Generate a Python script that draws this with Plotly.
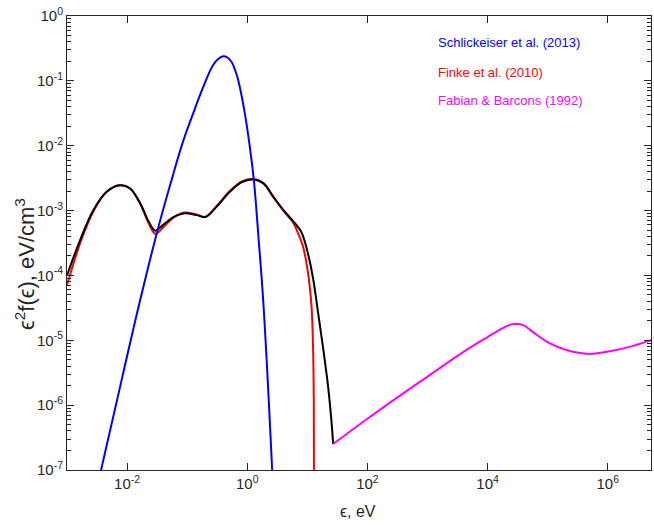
import plotly.graph_objects as go

# ---- data ----
blue_x = [0.003388, 0.008128, 0.01585, 0.03162, 0.05495, 0.08710, 0.1259, 0.1862, 0.2692, 0.3311,
          0.3981, 0.4677, 0.5495, 0.6310, 0.7079, 0.9120, 1.122, 1.288, 1.549, 1.862, 2.630]
blue_y = [7.08e-8, 2.45e-6, 3.55e-5, 4.68e-4, 2.95e-3, 1.23e-2, 3.16e-2, 8.13e-2, 0.1738, 0.2188,
          0.2399, 0.2291, 0.1950, 0.1445, 0.1023, 3.16e-2, 8.51e-3, 2.95e-3, 3.55e-4, 3.55e-5, 7.94e-8]

black_x = [0.001, 0.0016596, 0.0027542, 0.0045709, 0.0075858, 0.011220, 0.016596, 0.022909, 0.029512,
           0.039811, 0.058884, 0.091201, 0.14454, 0.19953, 0.30903, 0.51286, 0.81283, 1.2589, 1.8621,
           2.6915, 3.9811, 5.7544, 7.9433, 10.233, 12.589, 15.136, 18.197, 22.131, 25.119, 26.915]
black_y = [1.0e-4, 3.548e-4, 1.023e-3, 1.950e-3, 2.455e-3, 2.188e-3, 1.288e-3, 6.761e-4, 4.898e-4,
           6.026e-4, 7.943e-4, 9.120e-4, 8.511e-4, 7.943e-4, 1.148e-3, 1.950e-3, 2.754e-3, 3.020e-3,
           2.630e-3, 1.660e-3, 1.023e-3, 6.918e-4, 4.677e-4, 2.188e-4, 8.511e-5, 2.630e-5, 7.943e-6,
           1.950e-6, 5.888e-7, 2.512e-7]

red_x = [0.001, 0.0016596, 0.0027542, 0.0045709, 0.0075858, 0.011220, 0.016596, 0.022909, 0.029512,
         0.039811, 0.058884, 0.091201, 0.14454, 0.19953, 0.30903, 0.51286, 0.81283, 1.2589, 1.8621,
         2.6915, 3.9811, 5.7544, 7.0795, 8.5114, 10.233, 11.749, 12.445, 12.823, 12.942]
red_y = [7.08e-5, 3.16e-4, 9.77e-4, 1.950e-3, 2.455e-3, 2.188e-3, 1.259e-3, 6.31e-4, 4.365e-4,
         5.495e-4, 7.762e-4, 9.333e-4, 8.710e-4, 7.943e-4, 1.175e-3, 2.0e-3, 2.818e-3, 3.090e-3,
         2.630e-3, 1.622e-3, 1.0e-3, 6.607e-4, 4.365e-4, 2.754e-4, 1.122e-4, 3.311e-5, 7.943e-6,
         1.0e-6, 1.0e-8]

magenta_x = [26.915, 100, 316.23, 1000, 3162.3, 6309.6, 10000, 15849, 22387, 28184, 39811, 56234,
             107152, 204174, 489779, 1202264, 2570396, 5248075]
magenta_y = [2.512e-7, 6.166e-7, 1.318e-6, 2.754e-6, 5.754e-6, 8.710e-6, 1.122e-5, 1.445e-5,
             1.698e-5, 1.778e-5, 1.698e-5, 1.349e-5, 9.016e-6, 7.079e-6, 6.166e-6, 6.918e-6,
             8.128e-6, 1.0e-5]

labels = ["Schlickeiser et al. (2013)", "Finke et al. (2010)", "Fabian & Barcons (1992)"]
label_colors = ["#0000ff", "#ff0000", "#ff00ff"]

x_tickvals = [1e-2, 1e0, 1e2, 1e4, 1e6]
x_ticktext = ["10<sup>-2</sup>", "10<sup>0</sup>", "10<sup>2</sup>", "10<sup>4</sup>", "10<sup>6</sup>"]
y_tickvals = [1e-7, 1e-6, 1e-5, 1e-4, 1e-3, 1e-2, 1e-1, 1e0]
y_ticktext = ["10<sup>-7</sup>", "10<sup>-6</sup>", "10<sup>-5</sup>", "10<sup>-4</sup>",
              "10<sup>-3</sup>", "10<sup>-2</sup>", "10<sup>-1</sup>", "10<sup>0</sup>"]
y_minor = [k * 10.0 ** n for n in range(-7, 0) for k in range(2, 10)]

FONT = "Liberation Sans, Arial, sans-serif"
AX = "#262626"

fig = go.Figure()
fig.add_trace(go.Scatter(x=red_x, y=red_y, mode="lines",
                         line=dict(color="#ff0000", width=2, shape="spline", smoothing=0.9)))
fig.add_trace(go.Scatter(x=black_x, y=black_y, mode="lines",
                         line=dict(color="#000000", width=2, shape="spline", smoothing=1.0)))
fig.add_trace(go.Scatter(x=magenta_x, y=magenta_y, mode="lines",
                         line=dict(color="#ff00ff", width=2, shape="spline", smoothing=1.0)))
fig.add_trace(go.Scatter(x=blue_x, y=blue_y, mode="lines",
                         line=dict(color="#0000ff", width=2, shape="spline", smoothing=1.2)))

ys = [0.942, 0.876, 0.8146]
for t, c, yy in zip(labels, label_colors, ys):
    fig.add_annotation(text=t, x=0.632, y=yy, xref="paper", yref="paper",
                       xanchor="left", yanchor="middle", showarrow=False,
                       font=dict(family=FONT, size=13, color=c))

fig.add_annotation(text="ϵ<sup>2</sup>f(ϵ), eV/cm<sup>3</sup>", textangle=-90,
                   x=-0.0719, y=0.4537, xref="paper", yref="paper",
                   xanchor="center", yanchor="middle", showarrow=False,
                   font=dict(family=FONT, size=22, color=AX))
fig.add_annotation(text="ϵ, eV", x=0.498, y=-0.0925, xref="paper", yref="paper",
                   xanchor="center", yanchor="middle", showarrow=False,
                   font=dict(family=FONT, size=16, color=AX))

fig.update_layout(
    width=654, height=525,
    margin=dict(l=67, r=3, t=16, b=55, autoexpand=False),
    paper_bgcolor="white", plot_bgcolor="white",
    showlegend=False,
    font=dict(family=FONT, size=15, color=AX),
)
fig.update_xaxes(type="log", range=[-3, 6.72], tickmode="array", tickvals=x_tickvals,
                 ticktext=x_ticktext, ticks="inside", ticklen=7, tickcolor=AX,
                 showline=True, linecolor=AX, linewidth=1, mirror="allticks",
                 showgrid=False, zeroline=False, automargin=False)
fig.update_yaxes(type="log", range=[-7, 0], tickmode="array", tickvals=y_tickvals,
                 ticktext=y_ticktext, ticks="inside", ticklen=7, tickcolor=AX,
                 showline=True, linecolor=AX, linewidth=1, mirror="allticks",
                 showgrid=False, zeroline=False, automargin=False,
                 minor=dict(tickmode="array", tickvals=y_minor, ticks="inside",
                            ticklen=4, tickcolor=AX, showgrid=False))

fig.write_html("out.html", config={"displayModeBar": False},
               post_script="document.body.style.margin='0';")
